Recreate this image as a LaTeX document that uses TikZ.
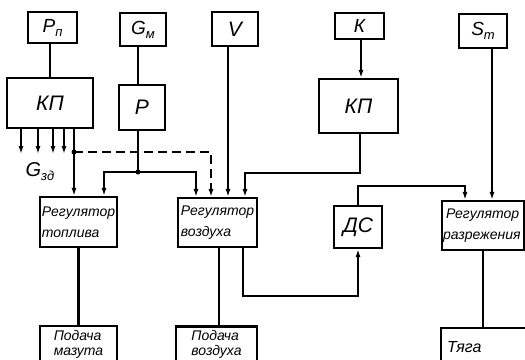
\documentclass[tikz,border=0pt]{standalone}
\usepackage{fontspec}
\setmainfont{Liberation Sans}
\usetikzlibrary{arrows.meta}
\tikzset{
  blk/.style={draw, line width=2.1pt, inner sep=0pt, font=\itshape, align=center},
  reg/.style={blk, font=\itshape\fontsize{14}{21}\selectfont, align=left},
  outb/.style={blk, font=\itshape\fontsize{14}{15}\selectfont, align=left},
  big/.style={font=\itshape\fontsize{21}{21}\selectfont},
  wire/.style={line width=2.1pt},
  arr/.style={wire, -{Latex[length=8pt,width=5pt]}},
  jdot/.style={circle, fill, inner sep=0pt, minimum size=5pt}
}
\newcommand{\sbs}[1]{\raisebox{-4pt}{\fontsize{13}{13}\selectfont #1}}
\begin{document}
\begin{tikzpicture}[x=1pt,y=-1pt]
\useasboundingbox[fill=white] (0,0) rectangle (525,359);
\clip (0,0) rectangle (525,359);
% top inputs
\node[blk, minimum width=49, minimum height=31, font=\itshape\fontsize{19}{19}\selectfont] (Pn) at (52.5,27.5) {Р\sbs{п}};
\node[blk, minimum width=46, minimum height=33, font=\itshape\fontsize{19}{19}\selectfont] (Gm) at (143,29.5) {G\sbs{м}};
\node[blk, minimum width=46, minimum height=34, big] (V) at (235,29) {V};
\node[blk, minimum width=49, minimum height=26, font=\itshape\fontsize{19}{19}\selectfont] (K) at (359.5,26) {К};
\node[blk, minimum width=48, minimum height=34, font=\itshape\fontsize{19}{19}\selectfont] (ST) at (483,31) {S\sbs{т}};
% second row
\node[blk, minimum width=86, minimum height=50, big] (KP1) at (50,103) {КП};
\node[blk, minimum width=46, minimum height=45, big] (P) at (142,107.5) {Р};
\node[blk, minimum width=79, minimum height=54, big] (KP2) at (358.5,106) {КП};
% regulators
\node[reg, minimum width=77, minimum height=50] (RT) at (78.5,222) {Регулятор\\топлива};
\node[reg, minimum width=79, minimum height=49] (RV) at (217.5,222.5) {Регулятор\\воздуха};
\node[blk, minimum width=48, minimum height=42, big] (DC) at (358,227) {ДС};
\node[reg, minimum width=82, minimum height=49, text width=80, inner sep=1pt] (RR) at (483,225.5) {\hspace*{3pt}Регулятор\\разрежения};
% outputs
\node[outb, minimum width=77, minimum height=36] (PM) at (78.5,344) {Подача\\мазута};
\node[outb, minimum width=81, minimum height=36] (PV) at (216.5,344.5) {Подача\\воздуха};
\node[blk, minimum width=88, minimum height=38, font=\itshape\fontsize{16}{16}\selectfont, text width=76, align=left] (TY) at (485,347) {Тяга};
% label
\node[font=\itshape\fontsize{20}{20}\selectfont] (Gzd) at (40,172) {G\sbs{зд}};
% junctions
\coordinate (jP) at (138,172);
\coordinate (jK) at (74,152);
% connectors
\draw[wire] (Pn.south -| KP1.north) -- (KP1.north);
\draw[wire] ([xshift=-5]Gm.south) -- ([xshift=-4]P.north);
\draw[wire] ([xshift=-4]P.south) -- (jP);
\node[jdot] at (jP) {};
\draw[arr] (jP) -| ([xshift=25.5]RT.north);
\draw[arr] (jP) -| ([xshift=-21.5]RV.north);
\foreach \dx in {-29,-12,3,14}
  \draw[arr] ([xshift=\dx]KP1.south) -- ++(0,25);
\draw[arr] ([xshift=24]KP1.south) -- ([xshift=-4.5]RT.north);
\node[jdot] at (jK) {};
\draw[wire, dash pattern=on 9pt off 5pt, -{Latex[length=8pt,width=5pt]}] (jK) -| ([xshift=-6.5]RV.north);
\draw[arr] ([xshift=-7]V.south) -- ([xshift=10.5]RV.north);
\draw[arr] ([xshift=1.5]KP2.south) -- ++(0,39) -| ([xshift=27.5]RV.north);
\draw[arr] ([xshift=1.5]K.south) -- ([xshift=2.5]KP2.north);
\draw[arr] ([xshift=9]ST.south) -- ([xshift=9]RR.north);
\draw[arr] (DC.north) -- ++(0,-19) -| ([xshift=-18]RR.north);
\draw[arr] ([xshift=25.5]RV.south) -- ++(0,48) -| (DC.south);
\draw[wire] ([xshift=1.5]RV.south) -- ([xshift=2.5]PV.north);
\draw[wire] (RT.south) -- (PM.north);
\draw[wire] (RR.south) -- ([xshift=-2]TY.north);
\end{tikzpicture}
\end{document}
